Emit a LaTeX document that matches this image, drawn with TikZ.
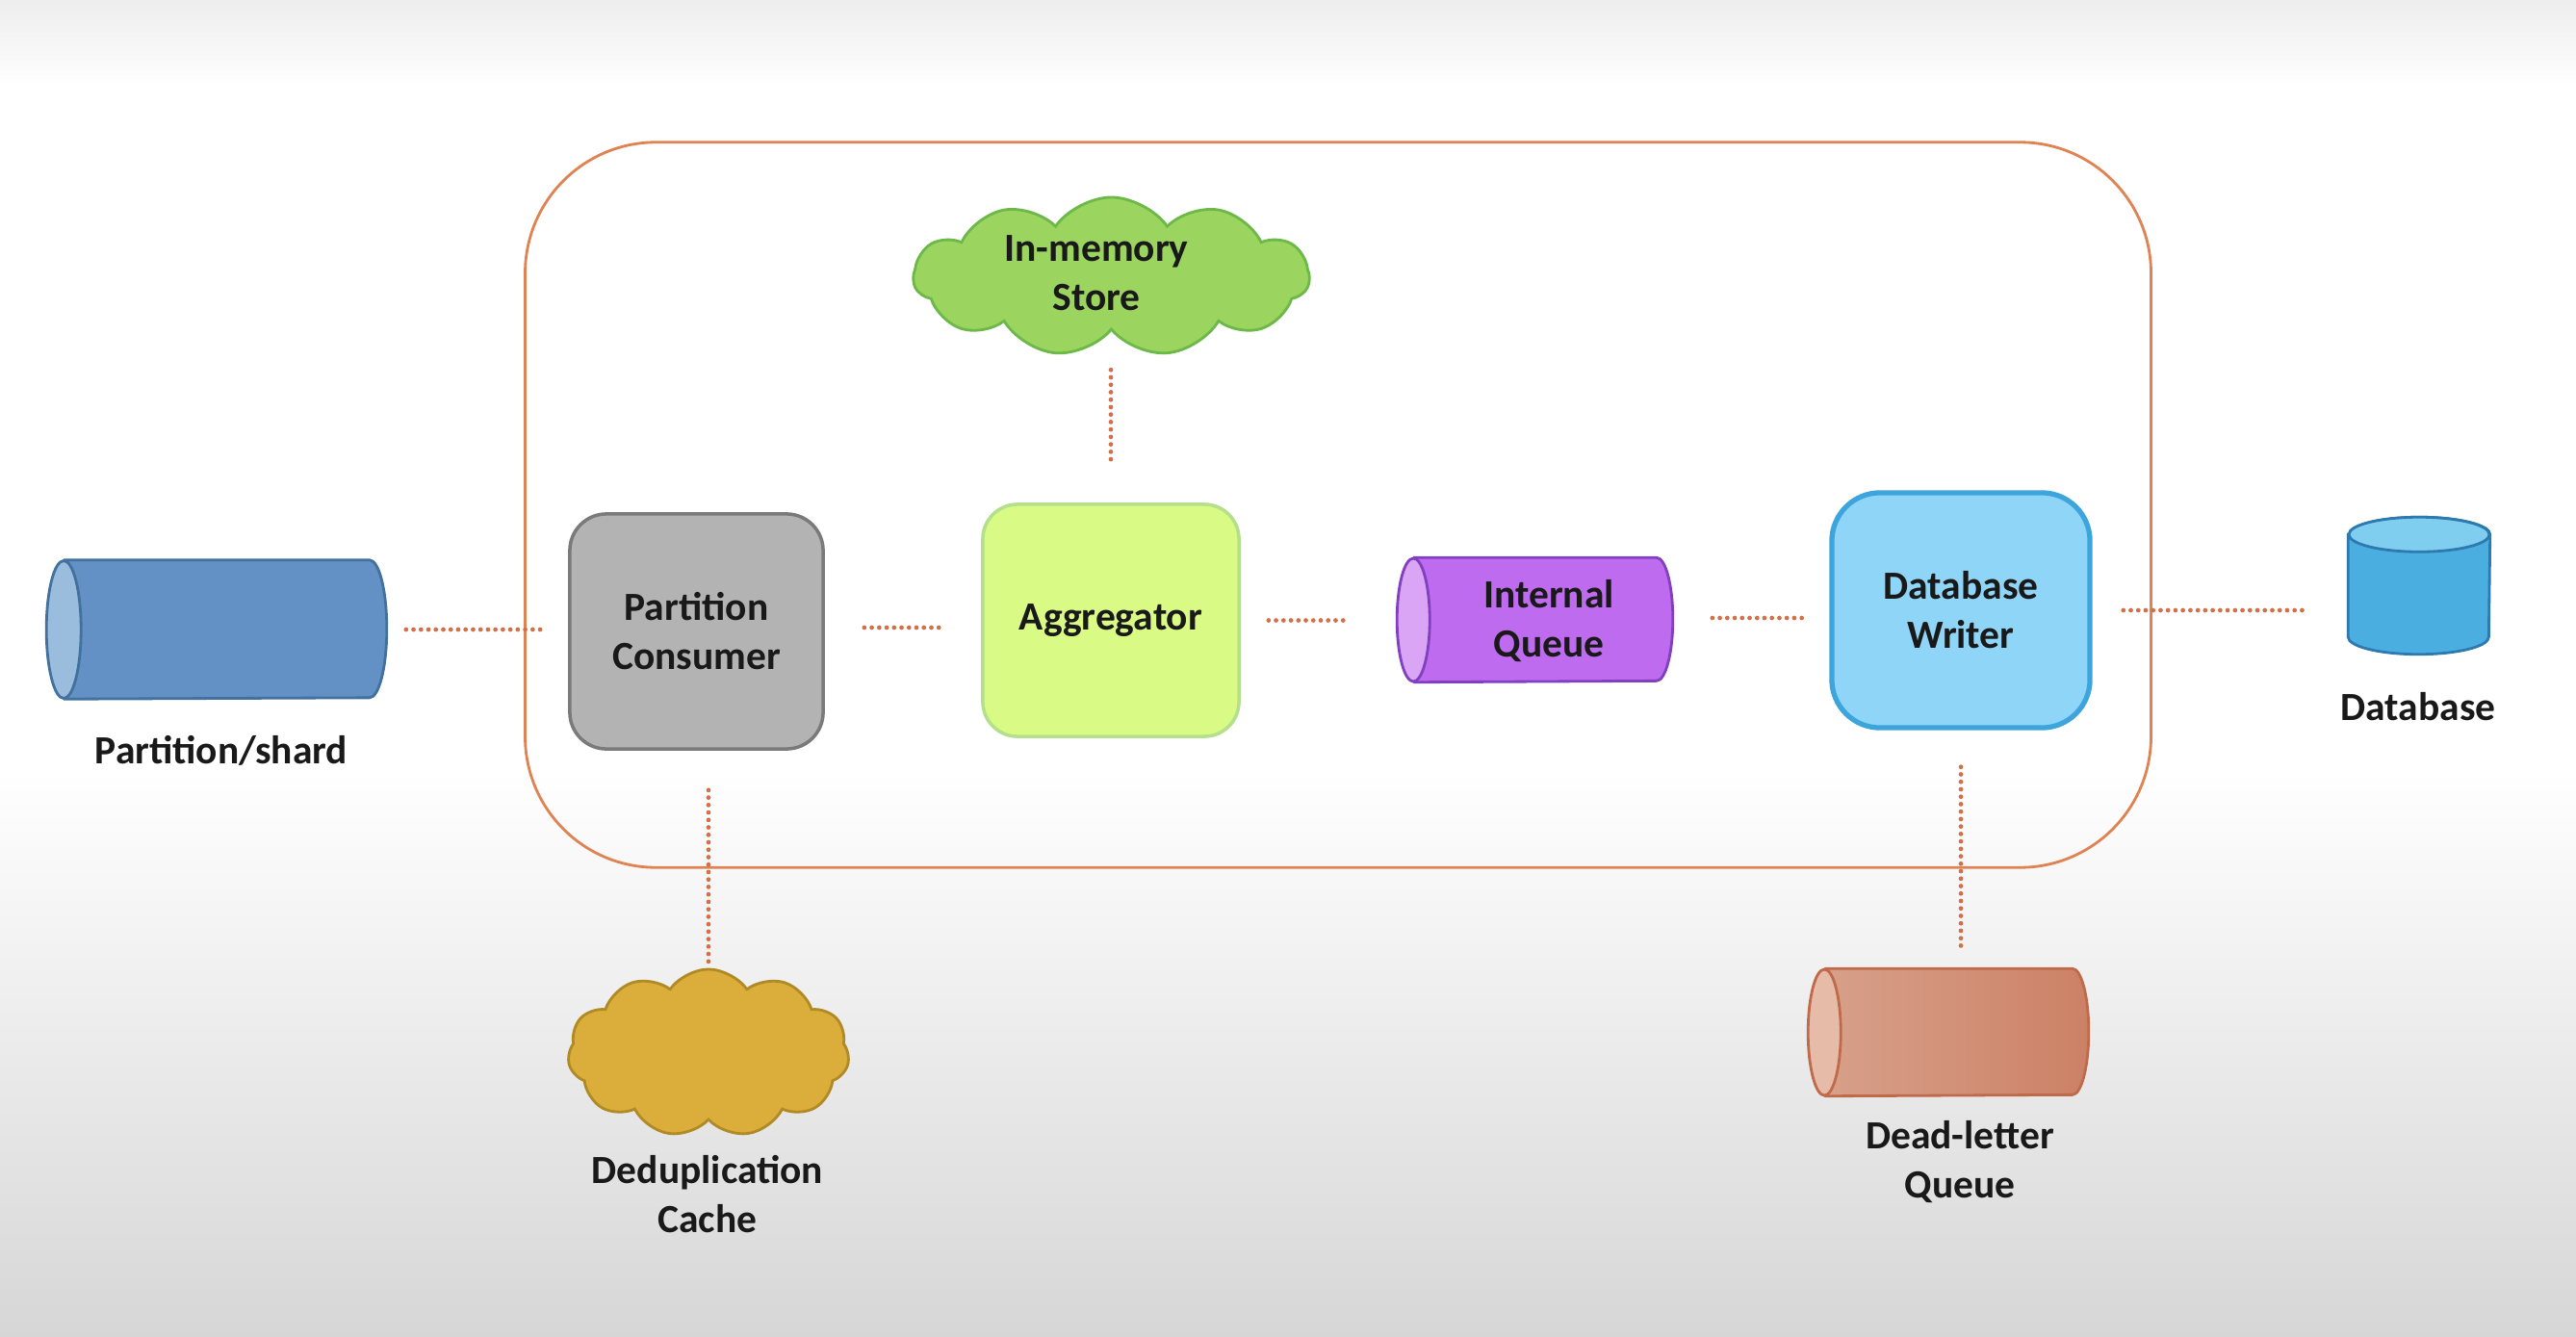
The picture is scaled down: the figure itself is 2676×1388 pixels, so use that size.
\documentclass[tikz,border=0pt]{standalone}
\usepackage{fontspec}
\setmainfont{Carlito}
\usetikzlibrary{shapes.geometric,shapes.symbols,calc}
\definecolor{dotc}{HTML}{D0714A}
\definecolor{framec}{HTML}{E08352}
\definecolor{psbody}{HTML}{6391C6}
\definecolor{psend}{HTML}{9ABCDD}
\definecolor{psline}{HTML}{41719C}
\definecolor{pcfill}{HTML}{B3B3B3}
\definecolor{pcline}{HTML}{7A7A7A}
\definecolor{agfill}{HTML}{DAFA86}
\definecolor{agline}{HTML}{B4E08C}
\definecolor{stfill}{HTML}{9BD45F}
\definecolor{stline}{HTML}{6CB849}
\definecolor{iqbody}{HTML}{BE6BEF}
\definecolor{iqend}{HTML}{D9A5F4}
\definecolor{iqline}{HTML}{8040C0}
\definecolor{dwfill}{HTML}{8ED5F7}
\definecolor{dwline}{HTML}{3DA5DC}
\definecolor{dbbody}{HTML}{4BAEE1}
\definecolor{dbend}{HTML}{7FCDEF}
\definecolor{dbline}{HTML}{2E7AAF}
\definecolor{ddfill}{HTML}{DBAE3B}
\definecolor{ddline}{HTML}{B08A25}
\definecolor{dlleft}{HTML}{D8A28C}
\definecolor{dlright}{HTML}{CC8166}
\definecolor{dlend}{HTML}{E6BBA8}
\definecolor{dlline}{HTML}{C06A4C}
\tikzset{
  lbl/.style={font=\fontsize{11.8}{14.5}\selectfont\bfseries, text=black!90, align=center, inner sep=0pt},
  dotline/.style={draw=dotc, line width=1.35pt, line cap=round, dash pattern=on 0pt off 2.2pt},
  container/.style={draw=framec, line width=0.8pt, rounded corners=1.36cm, rectangle, minimum width=16.88cm, minimum height=7.53cm},
  cylbox/.style={rectangle, inner sep=0pt, lbl},
  cylline/.style={line width=0.8pt},
  procbox/.style={rectangle, draw, line width=1pt, inner sep=0pt, lbl},
  cloudy/.style={cloud, cloud puffs=11, cloud puff arc=110, aspect=2.4, draw, line width=0.8pt, inner sep=0pt, lbl}
}
% horizontal cylinder, visible end on the left
% #1 node, #2 rx, #3 ry, #4 body style, #5 end colour, #6 line colour
\newcommand{\myhcyl}[6]{%
  \path[#4] ([xshift=#2]#1.north west) -- ([xshift=-#2]#1.north east)
     arc[start angle=90, end angle=-90, x radius=#2, y radius=#3]
     -- ([xshift=#2]#1.south west)
     arc[start angle=270, end angle=90, x radius=#2, y radius=#3] -- cycle;
  \draw[cylline, draw=#6] ([xshift=#2]#1.north west) -- ([xshift=-#2]#1.north east)
     arc[start angle=90, end angle=-90, x radius=#2, y radius=#3]
     -- ([xshift=#2]#1.south west);
  \draw[cylline, draw=#6, fill=#5] ([xshift=#2]#1.west) ellipse[x radius=#2, y radius=#3];
}
\begin{document}
\begin{tikzpicture}[x=0.01cm,y=-0.01cm]
\useasboundingbox (0,0) rectangle (2676,1388);
\fill[white] (0,0) rectangle (2676,1388);
\shade[top color=black!7, bottom color=white] (0,0) rectangle (2676,90);
\shade[top color=white, bottom color=black!16] (0,800) rectangle (2676,1388);

\node[container] (sys) at (1390,524.5) {};

% Partition/shard
\node[cylbox, minimum width=3.52cm, minimum height=1.43cm] (ps) at (225,654) {};
\myhcyl{ps}{0.18cm}{0.715cm}{fill=psbody}{psend}{psline}
\node[lbl, anchor=base] (pslbl) at (230,793) {Partition/shard};

\node[procbox, fill=pcfill, draw=pcline, rounded corners=0.38cm,
      minimum width=2.63cm, minimum height=2.44cm] (pc) at (723.5,656) {Partition\\Consumer};

\node[procbox, fill=agfill, draw=agline, rounded corners=0.36cm,
      minimum width=2.66cm, minimum height=2.41cm] (agg) at (1154,644.5) {Aggregator};

\node[cloudy, fill=stfill, draw=stline, minimum width=4.11cm, minimum height=1.65cm] (store) at (1154.5,287.5) {};
\node[lbl] (storetxt) at (1139,284) {In-memory\\Store};

% Internal Queue
\node[cylbox, minimum width=2.85cm, minimum height=1.28cm] (iq) at (1594.5,644) {};
\myhcyl{iq}{0.17cm}{0.64cm}{fill=iqbody}{iqend}{iqline}
\node[lbl] (iqtxt) at (1609,645) {Internal\\Queue};

\node[procbox, fill=dwfill, draw=dwline, line width=1.5pt, rounded corners=0.5cm,
      minimum width=2.68cm, minimum height=2.44cm] (dw) at (2037,634) {Database\\Writer};

% Database
\node[cylbox, minimum width=1.46cm, minimum height=1.41cm] (db) at (2513,608.5) {};
\draw[cylline, draw=dbline, fill=dbbody] ([yshift=-0.18cm]db.north west) -- ([yshift=0.18cm]db.south west)
   arc[start angle=180, end angle=360, x radius=0.73cm, y radius=0.18cm]
   -- ([yshift=-0.18cm]db.north east)
   arc[start angle=0, end angle=180, x radius=0.73cm, y radius=0.18cm] -- cycle;
\draw[cylline, draw=dbline, fill=dbend] ([yshift=-0.18cm]db.north) ellipse[x radius=0.73cm, y radius=0.18cm];
\node[lbl, anchor=base] (dblbl) at (2512,748) {Database};

\node[cloudy, fill=ddfill, draw=ddline, minimum width=2.92cm, minimum height=1.74cm] (dd) at (736,1094) {};
\node[lbl] (ddlbl) at (735,1241) {Deduplication\\Cache};

% Dead-letter queue
\node[cylbox, minimum width=2.90cm, minimum height=1.31cm] (dlq) at (2024,1072.5) {};
\myhcyl{dlq}{0.17cm}{0.655cm}{left color=dlleft, right color=dlright}{dlend}{dlline}
\node[lbl] (dllbl) at (2036,1207) {Dead-letter\\Queue};

% connectors
\draw[dotline, shorten <=0.2cm, shorten >=0.27cm] (ps.east) -- (ps.east -| pc.west);
\draw[dotline, shorten <=0.41cm, shorten >=0.40cm] ([yshift=0.04cm]pc.east) -- ([yshift=0.04cm]pc.east -| agg.west);
\draw[dotline, shorten <=0.29cm, shorten >=0.49cm] (agg.east) -- (agg.east -| iq.west);
\draw[dotline, shorten <=0.41cm, shorten >=0.22cm] ([yshift=0.02cm]iq.east) -- ([yshift=0.02cm]iq.east -| dw.west);
\draw[dotline, shorten <=0.32cm, shorten >=0.42cm] (dw.east) -- (dw.east -| db.west);
\draw[dotline, shorten <=0.40cm, shorten >=0.41cm] (agg.north |- store.south) -- (agg.north);
\draw[dotline, shorten <=0.41cm] (dd.north |- pc.south) -- (dd.north);
\draw[dotline, shorten <=0.38cm, shorten >=0.22cm] (dw.south) -- (dw.south |- dlq.north);
\end{tikzpicture}
\end{document}
